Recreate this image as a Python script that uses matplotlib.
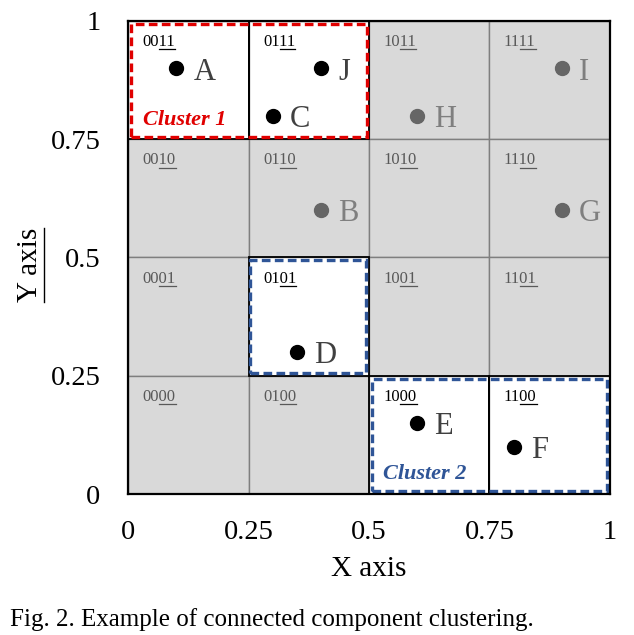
import matplotlib.pyplot as plt
from matplotlib.patches import Rectangle
from matplotlib.lines import Line2D

plt.rcParams['font.family'] = ['Liberation Serif', 'DejaVu Serif']

# grid cells: lower-left corner and code (prefix, underlined part)
cell_x = [0, 0.25, 0.5, 0.75]
cell_y = [0.75, 0.5, 0.25, 0]
codes = [['00', '11', '01', '11', '10', '11', '11', '11'],
         ['00', '10', '01', '10', '10', '10', '11', '10'],
         ['00', '01', '01', '01', '10', '01', '11', '01'],
         ['00', '00', '01', '00', '10', '00', '11', '00']]
white_cells = [(0, 0.75), (0.25, 0.75), (0.25, 0.25), (0.5, 0), (0.75, 0)]

# points
names = ['A', 'J', 'C', 'H', 'I', 'B', 'G', 'D', 'E', 'F']
px = [0.1, 0.4, 0.3, 0.6, 0.9, 0.4, 0.9, 0.35, 0.6, 0.8]
py = [0.9, 0.9, 0.8, 0.8, 0.9, 0.6, 0.6, 0.3, 0.15, 0.1]
active = [True, True, True, False, False, False, False, True, True, True]

ticks = [0, 0.25, 0.5, 0.75, 1]
tick_labels = ['0', '0.25', '0.5', '0.75', '1']

fig = plt.figure(figsize=(6.34, 6.35), dpi=100)
ax = fig.add_axes([0.202, 0.222, 0.760, 0.745])
ax.set_xlim(0, 1)
ax.set_ylim(0, 1)
renderer = fig.canvas.get_renderer()
inv = ax.transData.inverted()

# background cells with binary codes, last two digits underlined
for j, y0 in enumerate(cell_y):
    for i, x0 in enumerate(cell_x):
        white = (x0, y0) in white_cells
        col = 'black' if white else '#595959'
        ax.add_patch(Rectangle((x0, y0), 0.25, 0.25,
                               facecolor='white' if white else '#d9d9d9',
                               edgecolor='#7f7f7f', lw=1.0, zorder=1))
        pre, und = codes[j][2 * i], codes[j][2 * i + 1]
        t_full = ax.text(x0 + 0.03, y0 + 0.197, pre + und, fontsize=12, color=col,
                         ha='left', va='baseline', zorder=5)
        t_pre = ax.text(x0 + 0.03, y0 + 0.197, pre, fontsize=12,
                        ha='left', va='baseline')
        x1 = inv.transform((t_pre.get_window_extent(renderer).x1, 0))[0]
        x2 = inv.transform((t_full.get_window_extent(renderer).x1, 0))[0]
        t_pre.remove()
        yb = y0 + 0.197 - 0.007
        ax.add_line(Line2D([x1, x2], [yb, yb], color=col, lw=0.9, zorder=5))

for (x0, y0) in white_cells:
    ax.add_patch(Rectangle((x0, y0), 0.25, 0.25, facecolor='none',
                           edgecolor='black', lw=1.3, zorder=2))

# points and their labels
for n, x, y, a in zip(names, px, py, active):
    ax.plot(x, y, 'o', ms=10, color='black' if a else '#666666', zorder=6)
    ax.text(x + 0.036, y - 0.008, n, fontsize=22, color='#404040' if a else '#7f7f7f',
            ha='left', va='center', zorder=6)

# cluster boxes
dash = (0, (2.6, 1.3))
ax.add_patch(Rectangle((0.006, 0.754), 0.49, 0.24, facecolor='none',
                       edgecolor='#e00000', lw=2.4, ls=dash, zorder=4))
ax.add_patch(Rectangle((0.506, 0.006), 0.488, 0.238, facecolor='none',
                       edgecolor='#2f5597', lw=2.4, ls=dash, zorder=4))
ax.add_patch(Rectangle((0.253, 0.256), 0.241, 0.238, facecolor='none',
                       edgecolor='#2f5597', lw=2.4, ls=dash, zorder=4))
ax.text(0.03, 0.79, 'Cluster 1', color='#e00000', fontsize=16,
        fontweight='bold', fontstyle='italic', ha='left', va='center', zorder=6)
ax.text(0.53, 0.042, 'Cluster 2', color='#2f5597', fontsize=16,
        fontweight='bold', fontstyle='italic', ha='left', va='center', zorder=6)

for s in ax.spines.values():
    s.set_linewidth(1.6)
    s.set_zorder(7)
ax.set_xticks(ticks)
ax.set_xticklabels(tick_labels)
ax.set_yticks(ticks)
ax.set_yticklabels(tick_labels)
ax.tick_params(length=0, labelsize=20.5, pad=19)
ax.tick_params(axis='y', pad=20)
ax.set_xlabel('X axis', fontsize=21)
ax.xaxis.set_label_coords(0.5, -0.132)

# underlined Y label
ylab = fig.text(0.047, 0.583, 'Y axis', fontsize=21, rotation=90,
                ha='center', va='center')
by = ylab.get_window_extent(renderer)
finv = fig.transFigure.inverted()
(lx0, ly0), (lx1, ly1) = finv.transform([(by.x1 + 1, by.y0), (by.x1 + 1, by.y1)])
fig.add_artist(Line2D([lx0, lx0], [ly0, ly1], color='black', lw=1.0))

fig.text(0.016, 0.024, 'Fig. 2. Example of connected component clustering.',
         fontsize=18, ha='left', va='center')

fig.savefig('out.png', dpi=100)
